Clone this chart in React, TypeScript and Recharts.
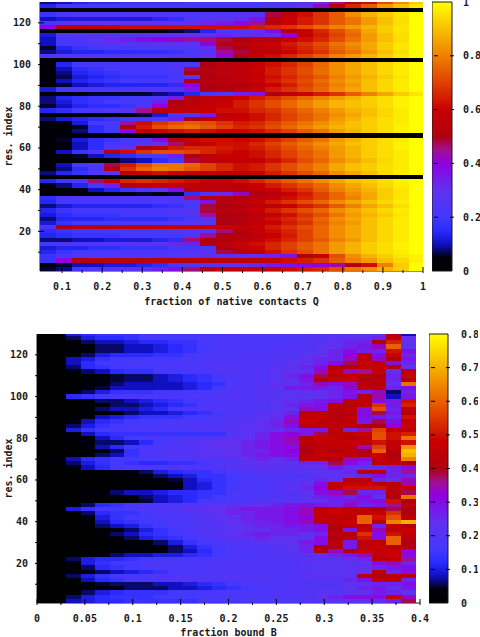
import { Bar, BarChart, Label, Scatter, ScatterChart, XAxis, YAxis } from 'recharts'

const FONT = '"DejaVu Sans Mono", monospace'
const INK = '#1a1a1a'

// colour bar stops: [fraction of range, colour]
const PALETTE: [number, string][] = [
  [0, '#000000'], [0.05, '#00000c'], [0.1, '#1010c0'], [0.15, '#2a2aff'], [0.2, '#4438fc'], [0.3, '#6030f0'],
  [0.4, '#9000e0'], [0.45, '#a01090'], [0.5, '#b00010'], [0.6, '#c80000'], [0.7, '#e04000'], [0.8, '#f08000'],
  [0.9, '#f8c000'], [1, '#ffff00'],
]

const RESIDUES = [
  129, 127, 125, 123, 121, 119, 117, 115, 113, 111, 109, 107, 105, 103, 101, 99, 97, 95, 93, 91, 89, 87, 85,
  83, 81, 79, 77, 75, 73, 71, 69, 67, 65, 63, 61, 59, 57, 55, 53, 51, 49, 47, 45, 43, 41, 39, 37, 35, 33, 31,
  29, 27, 25, 23, 21, 19, 17, 15, 13, 11, 9, 7, 5, 3, 1,
]
const RES_TICKS = [10, 20, 30, 40, 50, 60, 70, 80, 90, 100, 110, 120]
const RES_LABELS = [20, 40, 60, 80, 100, 120]

const Q_EDGES = [
  0.045, 0.085, 0.125, 0.165, 0.205, 0.245, 0.285, 0.325, 0.365, 0.405, 0.445, 0.485, 0.525, 0.565, 0.605,
  0.645, 0.685, 0.725, 0.765, 0.805, 0.845, 0.885, 0.925, 0.965, 1,
]
const Q_TICKS = [0.1, 0.15, 0.2, 0.25, 0.3, 0.35, 0.4, 0.45, 0.5, 0.55, 0.6, 0.65, 0.7, 0.75, 0.8, 0.85, 0.9, 0.95, 1]
const Q_LABELS = [0.1, 0.2, 0.3, 0.4, 0.5, 0.6, 0.7, 0.8, 0.9, 1]
const Q_BAR_TICKS = [0, 0.2, 0.4, 0.6, 0.8, 1]

// percent, top row first
const Q_VALUES = [
  [8,10,14,16,16,18,18,18,18,20,20,20,20,20,22,22,24,28,45,55,62,72,82,92],
  [14,20,22,22,22,22,22,22,22,22,22,22,22,22,24,26,30,42,56,66,74,84,90,96],
  [2,2,2,2,2,2,2,2,2,2,2,2,2,2,2,2,2,2,2,2,2,2,2,2],
  [18,22,24,24,24,24,24,24,24,24,24,25,26,28,48,56,62,68,74,82,88,92,96,100],
  [10,12,12,12,12,12,12,14,16,22,26,30,32,36,54,60,64,68,74,78,84,90,95,100],
  [22,28,30,30,30,30,30,30,30,30,32,34,38,45,55,60,64,68,74,78,84,90,95,100],
  [40,54,56,58,60,62,62,62,62,62,62,62,62,64,66,68,72,76,80,84,88,92,96,100],
  [2,2,2,2,3,5,4,4,6,8,14,20,24,30,38,52,60,66,72,78,86,92,96,100],
  [12,24,24,24,24,24,26,28,30,30,30,32,30,32,30,40,58,64,70,76,84,90,95,100],
  [10,22,24,28,32,34,38,40,42,44,46,48,50,52,54,58,62,66,72,78,84,90,95,100],
  [10,20,22,24,26,28,28,30,30,30,40,52,54,58,60,64,68,72,78,82,86,92,96,100],
  [6,14,18,20,22,22,24,24,24,26,30,48,50,56,58,62,66,70,76,80,86,92,96,100],
  [8,12,14,14,16,16,16,16,18,20,26,44,48,54,56,60,64,68,74,78,84,90,95,100],
  [24,26,26,26,26,26,26,26,26,28,30,42,52,58,62,66,70,74,80,84,88,92,96,100],
  [2,2,2,2,2,2,2,2,2,2,2,2,2,2,2,2,2,2,2,2,2,2,2,2],
  [5,14,20,22,22,22,22,22,24,24,50,54,56,58,62,66,70,76,82,86,90,94,97,100],
  [3,10,16,18,20,20,20,20,24,48,52,54,56,60,64,68,72,77,82,86,90,94,97,100],
  [4,8,14,16,18,20,20,20,22,50,52,54,56,60,64,68,72,77,82,86,90,94,97,100],
  [3,7,12,14,16,18,18,18,20,30,50,52,54,58,62,66,70,74,80,84,88,92,96,100],
  [4,10,14,16,18,20,20,20,26,50,52,54,56,60,64,68,72,77,82,86,90,94,97,100],
  [5,6,10,12,14,14,14,14,16,40,50,52,50,54,60,64,70,75,80,84,90,94,97,100],
  [12,20,22,22,22,22,24,24,26,36,50,52,56,60,64,68,72,76,82,86,90,94,97,100],
  [3,4,5,6,6,6,6,8,10,14,20,26,34,36,50,56,60,64,68,74,80,86,92,96],
  [8,14,16,18,18,20,20,22,34,52,54,56,60,64,68,72,76,80,84,88,92,95,98,100],
  [8,12,16,18,20,20,22,34,50,54,56,60,64,68,72,76,80,84,88,90,92,95,98,100],
  [6,10,14,16,16,18,20,40,52,56,58,60,64,68,72,76,80,84,88,90,92,95,98,100],
  [14,16,20,22,24,28,45,55,56,58,60,62,62,66,68,72,76,80,84,88,90,94,97,100],
  [2,2,2,2,3,4,6,12,20,24,34,54,58,62,66,70,74,78,82,86,90,94,97,100],
  [8,12,14,16,18,20,22,24,34,50,56,60,60,62,66,70,74,78,84,88,92,95,97,100],
  [3,5,12,20,22,45,62,68,72,74,72,68,64,66,70,74,78,82,86,90,92,95,97,100],
  [2,2,6,16,20,50,64,72,76,78,74,70,66,68,72,76,80,84,88,90,92,95,98,100],
  [2,3,8,16,20,38,56,60,62,64,62,60,60,62,66,70,74,78,84,88,92,95,98,100],
  [2,2,2,2,2,2,2,2,2,2,2,2,2,2,2,2,2,2,2,2,2,2,2,2],
  [3,6,12,16,18,20,24,38,54,60,62,62,60,62,66,70,74,78,84,88,92,95,97,100],
  [2,3,10,16,20,22,26,30,46,54,60,62,62,66,70,74,78,82,86,90,92,95,98,100],
  [2,3,10,16,22,30,50,58,64,66,66,64,62,64,68,72,76,80,84,88,92,95,98,100],
  [2,10,18,26,50,62,68,72,72,70,66,62,60,62,66,70,74,78,84,88,92,95,97,100],
  [2,3,6,10,14,16,20,22,34,50,56,60,60,62,66,70,74,78,84,88,92,95,97,100],
  [2,2,2,2,4,8,10,16,22,48,54,56,56,58,62,66,72,76,82,86,90,94,97,100],
  [3,10,20,24,48,64,72,78,78,76,70,66,62,64,68,72,76,80,86,90,92,95,97,100],
  [2,8,16,22,52,68,76,80,78,74,70,66,62,64,68,72,76,80,86,90,92,95,97,100],
  [8,14,18,24,30,54,60,62,60,58,58,56,56,60,64,68,72,76,82,86,90,94,97,100],
  [2,2,2,2,2,2,2,2,2,2,2,2,2,2,2,2,2,2,2,2,2,2,2,2],
  [14,20,24,46,58,66,68,66,64,62,60,60,62,66,70,74,78,82,86,90,92,95,98,100],
  [4,8,14,20,34,52,56,58,58,56,54,54,56,60,64,68,72,76,82,86,90,94,97,100],
  [2,3,5,10,14,18,24,30,38,52,56,54,52,56,60,64,68,74,80,84,88,92,96,100],
  [2,2,2,3,4,5,6,4,6,16,22,32,42,50,54,60,64,70,76,82,86,92,96,100],
  [16,22,24,24,24,24,24,24,24,46,54,52,50,54,58,62,66,70,76,80,86,92,96,100],
  [14,20,22,22,22,22,22,24,24,26,36,52,56,60,64,68,72,76,82,86,90,94,97,100],
  [8,12,14,14,14,14,14,16,18,20,48,50,50,54,56,60,64,68,74,80,86,90,95,100],
  [14,18,20,20,20,22,22,22,24,26,48,52,54,60,64,68,72,76,82,86,90,94,97,100],
  [12,16,18,18,18,20,20,20,22,24,44,50,50,54,58,62,68,72,78,84,88,92,96,100],
  [8,14,14,14,16,16,16,16,18,20,24,50,52,58,62,66,70,76,82,86,90,94,97,100],
  [12,18,20,20,20,22,22,22,24,26,28,50,52,56,60,64,68,74,80,84,90,94,97,100],
  [22,50,54,54,56,56,56,58,60,60,60,60,58,60,64,68,72,76,82,86,90,94,97,100],
  [16,18,20,20,20,20,20,22,24,24,26,46,52,58,62,66,70,76,82,86,90,94,97,100],
  [14,16,18,18,18,20,20,20,22,24,44,50,52,56,60,64,70,76,82,86,90,94,97,100],
  [8,8,10,10,12,12,12,14,16,46,50,52,56,58,62,66,70,74,80,84,90,94,97,100],
  [20,24,24,24,26,26,28,30,32,34,50,54,60,62,66,70,74,78,84,88,92,95,98,100],
  [12,14,14,16,16,18,18,18,20,20,22,50,54,60,66,70,74,78,84,88,92,95,98,100],
  [14,18,20,20,22,22,22,22,24,26,28,48,52,56,62,68,72,78,84,88,92,95,97,100],
  [18,22,24,24,24,24,24,24,24,26,28,28,30,30,32,36,50,60,72,82,88,92,96,98],
  [18,40,52,54,54,54,54,56,56,56,56,56,56,58,60,62,64,68,74,80,84,90,94,98],
  [4,6,10,10,12,12,14,16,20,24,26,28,30,32,34,36,38,40,44,52,62,80,92,100],
  [6,8,20,24,26,28,30,34,38,46,52,56,58,58,60,62,64,66,72,78,82,88,92,100],
]

const B_EDGES = [
  0, 0.0152, 0.0304, 0.0456, 0.0608, 0.076, 0.0912, 0.1064, 0.1216, 0.1368, 0.152, 0.1672, 0.1824, 0.1976,
  0.2128, 0.228, 0.2432, 0.2584, 0.2736, 0.2888, 0.304, 0.3192, 0.3344, 0.3496, 0.3648, 0.38, 0.3952,
]
const B_TICKS = [0.025, 0.05, 0.075, 0.1, 0.125, 0.15, 0.175, 0.2, 0.225, 0.25, 0.275, 0.3, 0.325, 0.35, 0.375, 0.4]
const B_LABELS = [0, 0.05, 0.1, 0.15, 0.2, 0.25, 0.3, 0.35, 0.4]
const B_BAR_TICKS = [0, 0.1, 0.2, 0.3, 0.4, 0.5, 0.6, 0.7, 0.8]

// hundredths, top row first
const B_VALUES = [
  [0,4,10,12,14,14,14,16,16,16,16,16,16,18,18,18,18,18,18,20,20,20,22,22,40,8],
  [0,0,6,10,12,12,14,16,16,16,16,18,18,18,18,18,18,18,20,20,22,22,24,26,44,24],
  [0,0,3,6,8,8,10,12,12,14,14,16,16,18,18,18,18,20,20,20,22,26,26,40,52,24],
  [0,0,2,4,6,6,8,8,10,12,14,16,18,18,18,18,18,20,20,22,24,26,28,34,60,22],
  [0,0,2,3,6,6,8,8,10,12,14,16,18,18,20,20,20,20,20,22,26,30,26,26,50,30],
  [0,0,3,6,10,12,12,12,14,14,16,18,18,18,20,20,20,20,22,24,26,32,46,30,48,26],
  [0,0,8,10,14,16,16,16,16,16,18,18,18,20,20,20,20,22,24,26,26,34,44,34,40,28],
  [0,0,8,12,16,16,18,18,18,18,18,18,20,20,20,20,20,22,24,26,30,38,48,44,30,26],
  [0,0,6,12,14,16,16,16,16,18,18,18,20,20,20,20,22,22,26,30,42,40,46,48,44,24],
  [0,0,4,6,8,12,14,14,16,16,18,18,20,20,20,20,22,24,24,34,46,34,36,46,24,42],
  [0,0,0,3,4,5,6,6,8,10,12,14,16,18,20,20,22,26,30,38,44,46,44,40,26,48],
  [0,0,0,3,4,5,6,6,8,10,12,14,16,18,20,20,22,24,28,42,48,48,40,44,26,40],
  [0,0,0,3,4,6,8,8,8,8,10,12,14,18,20,20,22,22,26,34,30,34,42,42,24,62],
  [0,0,0,3,5,8,8,8,8,8,10,12,16,20,20,22,24,28,28,28,26,32,46,44,26,30],
  [0,0,2,6,10,14,14,14,16,16,16,18,18,20,20,20,20,22,24,24,26,28,26,34,6,26],
  [0,2,12,14,16,18,18,18,18,18,18,18,20,20,20,22,22,22,22,24,26,30,42,34,8,28],
  [0,0,0,3,6,6,8,10,12,14,16,18,18,20,20,20,22,24,26,28,30,44,46,30,28,50],
  [0,0,0,2,4,6,6,8,10,12,14,18,18,18,20,20,22,26,28,30,44,42,46,54,28,52],
  [0,0,0,3,6,8,8,10,12,16,18,20,20,20,20,20,22,24,34,30,44,46,30,58,26,46],
  [0,0,0,2,3,4,6,8,8,10,12,14,16,18,20,22,24,26,44,46,42,42,30,38,28,42],
  [0,0,2,4,8,10,12,14,14,14,16,16,18,20,20,22,24,30,46,48,42,46,30,28,26,50],
  [0,0,4,8,12,14,16,16,16,18,18,18,20,20,22,24,26,34,48,44,44,44,28,38,30,46],
  [0,0,6,10,14,16,16,16,18,18,18,20,20,20,22,24,26,30,44,46,44,46,40,40,32,48],
  [0,2,10,14,16,16,18,18,18,18,18,20,20,22,22,24,24,26,28,28,44,26,36,56,46,44],
  [0,0,3,8,12,14,14,14,14,14,14,14,14,20,22,26,30,32,28,38,44,46,48,58,50,52],
  [0,0,2,4,8,12,16,18,18,18,20,20,20,22,24,26,30,34,42,48,46,40,44,58,50,62],
  [0,0,2,4,6,6,8,12,16,18,20,22,24,24,26,28,30,34,44,46,46,48,46,50,46,50],
  [0,0,0,4,8,12,16,18,18,20,20,22,24,24,26,28,30,30,40,44,46,44,34,56,46,66],
  [0,0,0,2,4,6,14,18,18,20,20,22,22,24,26,26,30,32,40,46,40,44,40,60,42,72],
  [0,0,0,4,6,8,14,18,20,20,20,22,22,24,26,28,30,30,42,46,48,44,42,48,40,70],
  [0,4,8,12,14,16,16,18,18,18,20,20,22,22,24,26,24,26,44,44,40,34,30,46,42,64],
  [0,2,6,10,14,16,14,12,12,14,14,16,18,20,22,24,22,22,26,26,38,30,26,44,46,40],
  [0,0,4,8,12,16,18,18,18,20,20,20,20,22,22,24,24,22,22,24,28,24,24,24,26,30],
  [0,0,0,0,2,3,4,6,10,12,14,14,16,18,18,20,20,20,22,22,24,26,44,44,26,36],
  [0,0,0,0,0,2,3,4,6,8,10,14,14,16,18,20,20,20,20,22,22,24,26,30,26,26],
  [0,0,0,0,0,0,2,3,3,5,8,12,14,16,18,18,20,20,22,26,24,42,44,26,24,34],
  [0,0,0,0,0,0,0,0,2,4,8,10,14,16,18,18,20,22,24,30,46,48,48,42,44,34],
  [0,0,0,0,0,0,0,0,2,4,8,10,14,16,18,18,20,22,26,32,44,50,50,50,44,46],
  [0,0,0,2,3,6,8,8,10,12,12,14,14,18,18,18,20,20,22,30,34,38,26,26,44,38],
  [0,0,0,0,2,3,3,6,8,10,12,14,16,18,18,18,20,20,22,26,28,26,30,24,40,62],
  [0,0,0,0,0,3,4,5,8,10,12,16,16,18,20,20,20,22,22,24,26,28,28,30,50,40],
  [0,0,2,6,12,14,16,18,18,18,20,20,22,22,24,24,26,28,30,28,26,34,26,28,36,44],
  [0,2,10,14,16,16,18,18,20,20,22,24,24,26,28,28,28,30,34,44,48,44,44,40,38,40],
  [0,0,2,6,12,14,14,16,18,18,20,22,24,26,26,28,28,30,34,46,48,48,46,48,54,40],
  [0,0,0,4,10,14,16,16,18,18,20,20,22,24,26,28,28,30,32,44,46,44,60,50,58,44],
  [0,0,0,3,8,12,14,16,16,18,18,20,22,24,26,26,28,30,34,44,46,48,60,44,64,70],
  [0,0,0,0,6,8,10,14,16,18,18,20,20,22,24,26,26,28,28,30,42,44,46,26,48,40],
  [0,0,0,0,2,4,6,10,14,16,18,20,20,22,24,24,26,26,28,30,40,28,48,34,44,48],
  [0,0,0,0,3,6,8,12,14,16,18,20,22,24,26,28,26,26,24,26,44,40,54,30,50,46],
  [0,0,0,0,2,4,6,10,12,14,16,18,20,22,24,26,24,24,22,30,40,44,50,30,60,42],
  [0,0,0,0,0,0,3,4,6,10,14,16,18,20,20,22,22,24,28,30,44,28,44,44,60,40],
  [0,0,0,0,0,2,3,3,4,6,10,14,16,18,20,20,20,22,26,40,40,28,46,48,44,42],
  [0,0,0,0,0,2,3,4,4,6,8,12,16,18,18,20,20,22,26,44,34,42,48,46,48,32],
  [0,0,0,2,4,6,8,8,10,10,12,14,16,18,18,20,20,20,22,24,26,28,34,46,48,30],
  [0,0,6,10,12,12,14,16,16,16,18,18,18,18,18,20,20,20,22,22,22,24,26,44,46,36],
  [0,0,4,10,14,16,16,18,18,18,18,18,20,20,20,20,20,20,22,22,22,24,24,30,34,26],
  [0,0,2,6,12,14,16,18,18,18,18,18,20,20,20,20,20,20,20,22,22,24,24,26,28,30],
  [0,0,0,3,6,8,10,12,14,16,16,18,18,20,20,20,20,20,22,22,22,22,24,44,26,30],
  [0,0,6,10,14,16,18,18,20,20,20,20,20,20,20,20,20,20,22,22,22,24,44,40,44,44],
  [0,0,3,8,12,14,16,18,18,20,20,20,20,20,20,20,20,20,20,22,22,26,30,46,44,26],
  [0,0,0,3,5,6,6,6,8,8,10,12,14,16,18,18,18,20,20,20,20,22,24,26,26,30],
  [0,0,0,2,3,4,6,6,6,8,8,10,12,14,16,18,18,20,20,20,20,24,26,28,24,28],
  [0,0,3,6,10,12,14,14,14,16,16,16,18,18,18,18,20,20,20,22,22,22,24,28,26,24],
  [0,0,6,10,12,14,14,14,16,16,16,18,18,18,18,18,20,20,20,22,26,30,30,30,48,34],
  [0,2,8,10,12,12,14,14,14,14,14,16,16,16,18,18,18,18,20,20,22,24,24,22,26,38],
]

const RES_MAX = 130
const RES_MIN = 1

function hexToRgb(hex: string) {
  return [1, 3, 5].map((i) => parseInt(hex.slice(i, i + 2), 16))
}

function colour(f: number) {
  const t = Math.min(1, Math.max(0, f))
  let i = 0
  while (i < PALETTE.length - 2 && PALETTE[i + 1][0] < t) i++
  const [a, ca] = PALETTE[i]
  const [b, cb] = PALETTE[i + 1]
  const k = (t - a) / (b - a)
  const from = hexToRgb(ca)
  const to = hexToRgb(cb)
  return `rgb(${from.map((c, j) => Math.round(c + (to[j] - c) * k)).join(',')})`
}

function buildCells(edges: number[], values: number[][], full: number) {
  return RESIDUES.flatMap((res, r) => {
    const top = Math.min(res + 2, RES_MAX)
    return values[r].map((v, c) => ({
      x: (edges[c] + edges[c + 1]) / 2,
      y: (res + top) / 2,
      dx: edges[c + 1] - edges[c],
      dy: top - res,
      fill: colour(v / full),
    }))
  })
}

const fmt = (v: number) => String(v)

function xTick(side: 'bottom' | 'top', labels: number[]) {
  return (props: any) => {
    const { x, y, payload } = props
    const major = labels.includes(payload.value)
    const len = major ? 6 : 3
    const y2 = side === 'bottom' ? y - len : y + len
    return (
      <g>
        <line x1={x} x2={x} y1={y} y2={y2} stroke="#000" />
        {side === 'bottom' && major && (
          <text x={x} y={y + 17} textAnchor="middle" fontFamily={FONT} fontWeight="bold" fontSize={10} fill={INK}>
            {fmt(payload.value)}
          </text>
        )}
      </g>
    )
  }
}

function yTick(side: 'left' | 'right') {
  return (props: any) => {
    const { x, y, payload } = props
    const major = RES_LABELS.includes(payload.value)
    const len = major ? 6 : 3
    const x2 = side === 'left' ? x + len : x - len
    return (
      <g>
        <line x1={x} x2={x2} y1={y} y2={y} stroke="#000" />
        {side === 'left' && major && (
          <text x={x - 7} y={y + 3.5} textAnchor="end" fontFamily={FONT} fontWeight="bold" fontSize={10} fill={INK}>
            {payload.value}
          </text>
        )}
      </g>
    )
  }
}

interface HeatmapProps {
  top: number
  height: number
  titleOffset: number
  plotLeft: number
  plotWidth: number
  xDomain: [number, number]
  xTicks: number[]
  xLabels: number[]
  xTitle: string
  cells: ReturnType<typeof buildCells>
}

function Heatmap({ top, height, titleOffset, plotLeft, plotWidth, xDomain, xTicks, xLabels, xTitle, cells }: HeatmapProps) {
  const plotHeight = 269
  const pxX = plotWidth / (xDomain[1] - xDomain[0])
  const pxY = plotHeight / (RES_MAX - RES_MIN)
  const cellShape = (props: any) => {
    const { cx, cy, payload } = props
    const w = payload.dx * pxX
    const h = payload.dy * pxY
    return (
      <rect
        x={cx - w / 2}
        y={cy - h / 2}
        width={w + 0.5}
        height={h + 0.5}
        fill={payload.fill}
        shapeRendering="crispEdges"
      />
    )
  }
  const marginTop = top === 0 ? 2 : 9
  const bottom = height - marginTop - plotHeight
  return (
    <div style={{ position: 'absolute', left: 0, top }}>
      <ScatterChart
        width={plotLeft + plotWidth + 57}
        height={height}
        margin={{ top: marginTop, right: 57, bottom: 0, left: 0 }}
      >
        <Scatter data={cells} shape={cellShape} isAnimationActive={false} />
        <XAxis
          dataKey="x"
          type="number"
          domain={xDomain}
          allowDataOverflow
          height={bottom}
          ticks={[...new Set([...xTicks, ...xLabels])].sort((a, b) => a - b)}
          interval={0}
          tickSize={0}
          tickLine={false}
          axisLine={{ stroke: INK }}
          tick={xTick('bottom', xLabels)}
        >
          <Label
            value={xTitle}
            position="insideBottom"
            offset={titleOffset}
            style={{ fontFamily: FONT, fontWeight: 'bold', fontSize: 10, fill: INK }}
          />
        </XAxis>
        <XAxis
          xAxisId="top"
          orientation="top"
          type="number"
          domain={xDomain}
          allowDataOverflow
          height={0}
          ticks={xTicks}
          interval={0}
          tickSize={0}
          tickLine={false}
          axisLine={{ stroke: INK }}
          tick={xTick('top', xLabels)}
        />
        <YAxis
          dataKey="y"
          type="number"
          domain={[RES_MIN, RES_MAX]}
          allowDataOverflow
          width={plotLeft}
          ticks={RES_TICKS}
          interval={0}
          tickSize={0}
          tickLine={false}
          axisLine={{ stroke: INK }}
          tick={yTick('left')}
        >
          <Label
            value="res. index"
            angle={-90}
            position="insideLeft"
            offset={8}
            style={{ fontFamily: FONT, fontWeight: 'bold', fontSize: 10, fill: INK, textAnchor: 'middle' }}
          />
        </YAxis>
        <YAxis
          yAxisId="right"
          orientation="right"
          type="number"
          domain={[RES_MIN, RES_MAX]}
          allowDataOverflow
          width={0}
          ticks={RES_TICKS}
          interval={0}
          tickSize={0}
          tickLine={false}
          axisLine={{ stroke: INK }}
          tick={yTick('right')}
        />
      </ScatterChart>
    </div>
  )
}

interface ColourBarProps {
  id: string
  left: number
  top: number
  height: number
  marginTop: number
  barWidth: number
  labelGap: number
  max: number
  ticks: number[]
}

function ColourBar({ id, left, top, height, marginTop, barWidth, labelGap, max, ticks }: ColourBarProps) {
  const labelRoom = labelGap + 19
  const barTick = (props: any) => {
    const { x, y, payload } = props
    const inner = payload.value > 0 && payload.value < max
    return (
      <g>
        {inner && <line x1={x} x2={x - 4} y1={y} y2={y} stroke="#000" />}
        {inner && <line x1={x - barWidth} x2={x - barWidth + 4} y1={y} y2={y} stroke="#000" />}
        <text x={x + labelGap} y={y + 3.5} fontFamily={FONT} fontWeight="bold" fontSize={10} fill={INK}>
          {fmt(payload.value)}
        </text>
      </g>
    )
  }
  return (
    <div style={{ position: 'absolute', left, top }}>
      <BarChart
        width={barWidth + labelRoom}
        height={height}
        data={[{ name: 'scale', top: max }]}
        margin={{ top: marginTop, right: 0, bottom: height - marginTop - 269, left: 0 }}
        barCategoryGap={0}
      >
        <defs>
          <linearGradient id={id} x1="0" y1="1" x2="0" y2="0">
            {PALETTE.map(([at, c]) => (
              <stop key={at} offset={at} stopColor={c} />
            ))}
          </linearGradient>
        </defs>
        <XAxis dataKey="name" hide />
        <YAxis
          orientation="right"
          type="number"
          domain={[0, max]}
          width={labelRoom}
          ticks={ticks}
          interval={0}
          tickSize={0}
          tickLine={false}
          axisLine={false}
          tick={barTick}
        />
        <Bar dataKey="top" fill={`url(#${id})`} stroke={INK} isAnimationActive={false} />
      </BarChart>
    </div>
  )
}

export default function App() {
  return (
    <div style={{ position: 'absolute', left: 0, top: 0, width: 480, height: 637, background: '#fff', overflow: 'hidden' }}>
      <Heatmap
        top={0}
        height={310}
        titleOffset={5}
        plotLeft={40}
        plotWidth={383}
        xDomain={[0.045, 1]}
        xTicks={Q_TICKS}
        xLabels={Q_LABELS}
        xTitle="fraction of native contacts Q"
        cells={buildCells(Q_EDGES, Q_VALUES, 100)}
      />
      <ColourBar id="barQ" left={432} top={0} height={305} marginTop={2} barWidth={20} labelGap={9} max={1} ticks={Q_BAR_TICKS} />
      <Heatmap
        top={325}
        height={312}
        titleOffset={1}
        plotLeft={37}
        plotWidth={383}
        xDomain={[0, 0.4]}
        xTicks={B_TICKS}
        xLabels={B_LABELS}
        xTitle="fraction bound B"
        cells={buildCells(B_EDGES, B_VALUES, 80)}
      />
      <ColourBar id="barB" left={429} top={325} height={312} marginTop={9} barWidth={19} labelGap={11} max={0.8} ticks={B_BAR_TICKS} />
    </div>
  )
}
